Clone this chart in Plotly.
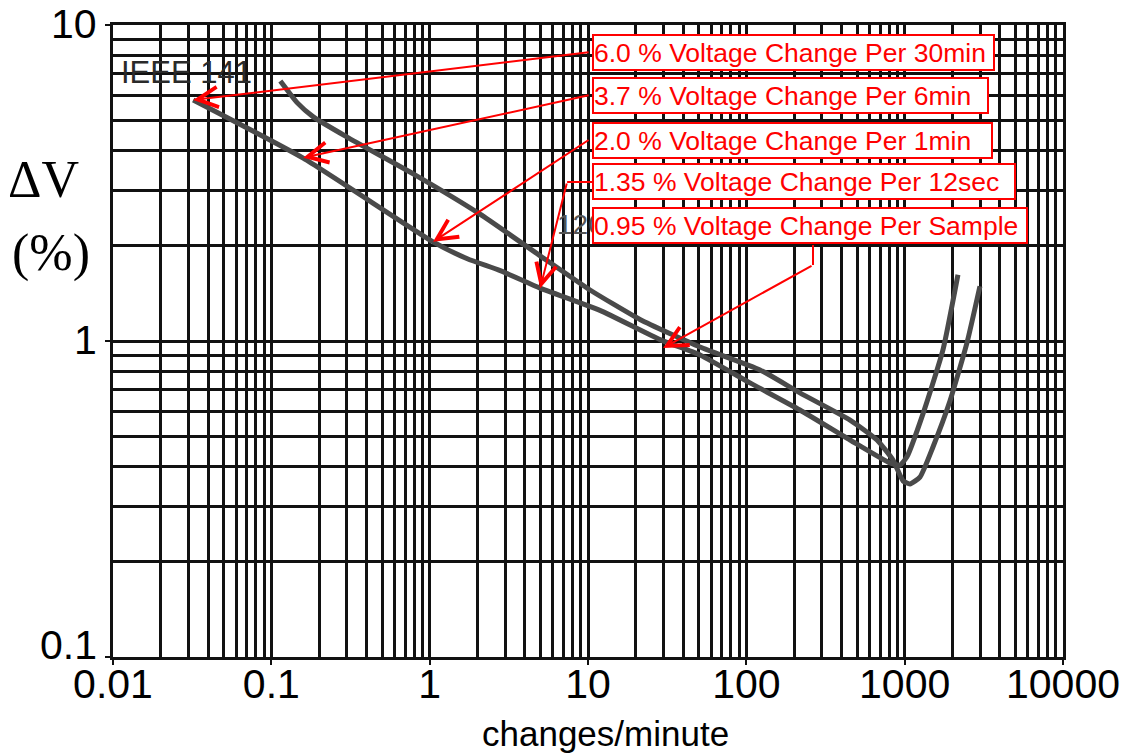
import numpy as np
import plotly.graph_objects as go

# ---- data ----
# Curve starting near 0.11 changes/min (upper at left)
curve_a_x = [0.114, 0.146, 0.184, 0.301, 0.787, 2.08, 4.99, 10.3, 21.3, 51.0,
             122, 218, 452, 669, 844, 976, 1080, 1249, 1509, 1932, 2474, 2988]
curve_a_y = [6.65, 5.67, 5.12, 4.42, 3.38, 2.52, 1.86, 1.45, 1.17, 0.957,
             0.81, 0.685, 0.562, 0.486, 0.420, 0.361, 0.353, 0.371, 0.462, 0.646, 0.986, 1.49]
# IEEE 141 curve (lower at left)
curve_b_x = [0.0321, 0.159, 1.05, 1.73, 2.79, 4.99, 11.9, 28.5, 51.0, 105.5,
             218, 452, 808, 934, 1034, 1305, 1745, 2170]
curve_b_y = [5.79, 3.79, 2.06, 1.82, 1.67, 1.47, 1.25, 1.01, 0.903, 0.737,
             0.605, 0.486, 0.411, 0.405, 0.430, 0.588, 0.937, 1.62]

# annotated points on the IEEE 141 curve
note_labels = ["6.0 % Voltage Change Per 30min",
               "3.7 % Voltage Change Per 6min",
               "2.0 % Voltage Change Per 1min",
               "1.35 % Voltage Change Per 12sec",
               "0.95 % Voltage Change Per Sample"]
note_x = [0.0321, 0.159, 1.05, 4.99, 29.8]
note_y = [5.79, 3.80, 2.06, 1.47, 0.95]

x_decades = [0.01, 0.1, 1, 10, 100, 1000, 10000]
x_tick_text = ["0.01", "0.1", "1", "10", "100", "1000", "10000"]
y_decades = [0.1, 1, 10]
y_tick_text = ["0.1", "1", "10"]

# ---- layout helpers ----
W, H = 1126, 753
ML, MR, MT, MB = 113, 63, 25, 96
PW, PH = W - ML - MR, H - MT - MB

def px_x(p):
    return (p - ML) / PW

def px_y(p):
    return (H - MB - p) / PH

minor_x = [m * d for d in x_decades[:-1] for m in range(2, 10)]
minor_y = [m * d for d in y_decades[:-1] for m in range(2, 10)]

GRID = "#111111"
CURVE = "#4a4a4a"
RED = "#ff0000"
SANS = "Liberation Sans, Arial, sans-serif"
SERIF = "Liberation Serif, Times New Roman, serif"

fig = go.Figure()
for xs, ys in [(curve_a_x, curve_a_y), (curve_b_x, curve_b_y)]:
    fig.add_trace(go.Scatter(x=xs, y=ys, mode="lines",
                             line=dict(color=CURVE, width=5, shape="spline", smoothing=0.5),
                             showlegend=False, hoverinfo="skip"))

axis_common = dict(
    type="log", showgrid=True, gridcolor=GRID, gridwidth=2.5,
    ticks="outside", ticklen=5, tickwidth=2, tickcolor=GRID,
    showline=True, linecolor=GRID, linewidth=2.5, mirror=True,
    zeroline=False, tickmode="array", automargin=False,
    tickfont=dict(family=SANS, size=41, color="black"),
)
fig.update_xaxes(range=[-2, 4], tickvals=x_decades, ticktext=x_tick_text,
                 minor=dict(tickmode="array", tickvals=minor_x, showgrid=True,
                            gridcolor=GRID, gridwidth=2.5, ticks=""),
                 ticklabelstandoff=-16, **axis_common)
fig.update_yaxes(range=[-1, 1], tickvals=y_decades, ticktext=y_tick_text,
                 showticklabels=False,
                 minor=dict(tickmode="array", tickvals=minor_y, showgrid=True,
                            gridcolor=GRID, gridwidth=2.5, ticks=""),
                 **axis_common)

annotations = []
# y tick labels (the bottom one sits slightly above its gridline, as in the reference)
y_label_shift = [12, 1, 1]
for v, t, s in zip(y_decades, y_tick_text, y_label_shift):
    annotations.append(dict(text=t, xref="paper", yref="y", x=px_x(99), y=np.log10(v),
                            xanchor="right", yanchor="middle", yshift=s, showarrow=False,
                            font=dict(family=SANS, size=41, color="black")))
# axis titles
annotations.append(dict(text="ΔV", xref="paper", yref="paper", x=px_x(43), y=px_y(180),
                        xanchor="center", yanchor="middle",
                        showarrow=False, font=dict(family=SERIF, size=52, color="black")))
annotations.append(dict(text="(%)", xref="paper", yref="paper", x=px_x(51), y=px_y(253),
                        xanchor="center", yanchor="middle",
                        showarrow=False, font=dict(family=SERIF, size=52, color="black")))
annotations.append(dict(text="changes/minute", xref="paper", yref="paper", x=px_x(605), y=px_y(733),
                        xanchor="center", yanchor="middle",
                        showarrow=False, font=dict(family=SANS, size=35, color="black")))
annotations.append(dict(text="IEEE 141", xref="paper", yref="paper", x=px_x(119), y=px_y(73),
                        xanchor="left", yanchor="middle", showarrow=False,
                        font=dict(family=SANS, size=31, color="#2a2a2a")))
annotations.append(dict(text="120", xref="paper", yref="paper", x=px_x(555), y=px_y(224),
                        xanchor="left", yanchor="middle", showarrow=False,
                        font=dict(family=SANS, size=28, color="#555555")))

# arrows (tip on curve, tail at label box)
tail_x = [10.31, 10.31, 10.31, 7.38, 263.7]
tail_y = [8.214, 6.006, 4.357, 3.185, 1.740]
for tx, ty, hx, hy in zip(note_x, note_y, tail_x, tail_y):
    annotations.append(dict(text="", x=np.log10(tx), y=np.log10(ty), xref="x", yref="y",
                            ax=np.log10(hx), ay=np.log10(hy), axref="x", ayref="y",
                            showarrow=True, arrowhead=5, arrowsize=2, arrowwidth=2,
                            arrowcolor=RED, standoff=0))

# label boxes
box_tops = [34, 77, 122, 163, 207]
box_widths = [399, 393, 397, 420, 432]
for lab, top, bw in zip(note_labels, box_tops, box_widths):
    annotations.append(dict(text=lab, xref="paper", yref="paper", x=px_x(592), y=px_y(top),
                            xanchor="left", yanchor="top", align="left",
                            width=bw, height=33, showarrow=False,
                            bgcolor="white", bordercolor=RED, borderwidth=2, borderpad=0,
                            font=dict(family=SANS, size=26.5, color=RED)))

shapes = [
    # elbow connectors of the bent arrows
    dict(type="line", xref="x", yref="y", x0=10.61, y0=3.185, x1=7.38, y1=3.185,
         line=dict(color=RED, width=2)),
    dict(type="line", xref="x", yref="y", x0=263.7, y0=2.013, x1=263.7, y1=1.740,
         line=dict(color=RED, width=2)),
]

fig.update_layout(width=W, height=H, autosize=False,
                  margin=dict(l=ML, r=MR, t=MT, b=MB, autoexpand=False),
                  paper_bgcolor="white", plot_bgcolor="white",
                  annotations=annotations, shapes=shapes, showlegend=False)

fig.write_html("out.html", config={"displayModeBar": False},
               post_script="document.body.style.margin='0px';")
